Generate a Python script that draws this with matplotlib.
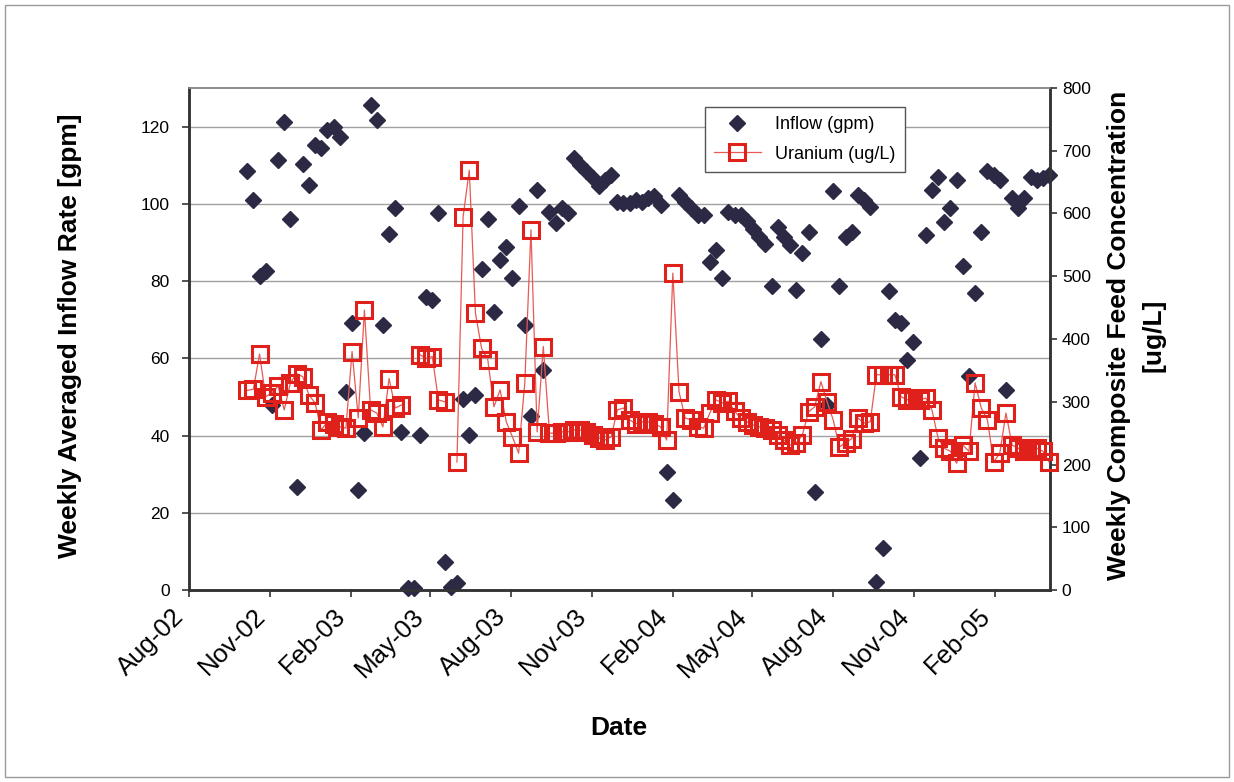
import numpy as np
import pandas as pd
import matplotlib
matplotlib.use("Agg")
import matplotlib.pyplot as plt
import matplotlib.dates as mdates
from matplotlib.lines import Line2D
from matplotlib.patches import Rectangle
from matplotlib.transforms import ScaledTranslation

plt.rcParams['font.family'] = ['Liberation Sans', 'DejaVu Sans']

# weekly samples, first week of the record
FIRST_WEEK = "2002-10-06"

# weekly averaged inflow rate [gpm]
inflow = [108.4, 101, 81.2, 82.5, 48, 111.4, 121.2, 96, 26.8, 110.3,
          104.9, 115.3, 114.4, 119.2, 120, 117.4, 51.4, 69.1, 25.9, 40.7,
          125.6, 121.8, 68.7, 92.2, 99, 41, 0.5, 0.5, 40.2, 76,
          75.1, 97.6, 7.3, 0.9, 1.8, 49.5, 40.2, 50.5, 83, 96,
          72, 85.5, 88.9, 80.7, 99.5, 68.7, 45, 103.6, 57, 98,
          95, 98.9, 97.6, 111.8, 110, 108.4, 106.7, 104.5, 106.2, 107.5,
          100.6, 100.2, 100.2, 101, 100.6, 101.5, 101.9, 99.8, 30.6, 23.3,
          102.3, 100.6, 98.9, 97.2, 97.2, 85, 88.1, 80.7, 98, 97.2,
          97, 95.5, 93.5, 91.5, 89.5, 78.6, 94.1, 91.5, 89.4, 77.7,
          87.3, 92.8, 25.5, 65, 47.9, 103.4, 78.6, 91.5, 92.8, 102.3,
          101, 99.3, 2.2, 10.8, 77.3, 70, 69.1, 59.6, 64.3, 34.1,
          92, 103.6, 107, 95.4, 98.9, 106.2, 83.8, 55.3, 76.9, 92.8,
          108.4, 107.5, 106.2, 51.8, 101.5, 98.9, 101.5, 107, 106.2, 106.6,
          107.5]

# weekly composite feed uranium concentration [ug/L], nan = no sample
uranium = [318, 320, 376, 308, 314, 325, 287, 330, 345, 340,
           311, 298, 255, 268, 264, 260, 258, 380, 274, 446,
           287, 282, 260, 337, 290, 295, np.nan, np.nan, 375, 369,
           372, 303, 300, np.nan, 204, 595, 669, 441, 385, 367,
           292, 319, 268, 244, 218, 330, 574, 252, 388, 250,
           250, 252, 252, 255, 255, 252, 247, 242, 239, 244,
           287, 290, 271, 265, 268, 268, 265, 260, 239, 505,
           316, 274, 271, 260, 258, 282, 303, 298, 301, 285,
           274, 268, 263, 260, 258, 255, 247, 239, 231, 234,
           247, 284, 292, 332, 300, 271, 228, 235, 241, 274,
           266, 268, 343, 343, 343, 343, 308, 303, 306, 303,
           306, 287, 242, 226, 221, 202, 231, 221, 330, 290,
           271, 204, 218, 282, 231, 226, 221, 226, 226, 221,
           204]

weeks = pd.date_range(FIRST_WEEK, periods=len(inflow), freq="7D")

fig = plt.figure(figsize=(12.34, 7.82), dpi=100)
fig.patches.append(Rectangle((0.004, 0.006), 0.992, 0.988, transform=fig.transFigure,
                             fill=False, edgecolor="#9a9a9a", lw=1))

ax = fig.add_axes([0.1532, 0.2455, 0.6977, 0.642])
ax2 = ax.twinx()

navy = "#2b2944"
red = "#e0201b"

ax.plot(weeks, inflow, ls="none", marker="D", ms=8.5, color=navy,
        clip_on=False, zorder=3)
ax2.plot(weeks, uranium, color="#e65a55", lw=0.9, marker="s", ms=12,
         mfc="none", mec=red, mew=2.2, clip_on=False, zorder=4)

ax.set_xlim(pd.Timestamp("2002-08-01"), pd.Timestamp("2005-04-04"))
ax.xaxis.set_major_locator(mdates.MonthLocator(bymonth=[2, 5, 8, 11]))
ax.xaxis.set_major_formatter(mdates.DateFormatter("%b-%y"))
ax.set_ylim(0, 130)
ax.set_yticks(range(0, 121, 20))
ax2.set_ylim(0, 800)
ax2.set_yticks(range(0, 801, 100))

ax.yaxis.grid(True, color="#a0a0a0", lw=1)
ax.set_axisbelow(True)

for a in (ax, ax2):
    a.tick_params(axis="both", direction="out", length=5, width=1.2,
                  color="#333333", labelsize=12.5)
ax.tick_params(axis="y", pad=9)
ax.tick_params(axis="x", labelsize=18.5, pad=9)
# Excel puts the end of the slanted labels a bit left of the tick
shift = ScaledTranslation(-9 / 100, -3 / 100, fig.dpi_scale_trans)
for tick in ax.xaxis.get_major_ticks():
    lab = tick.label1
    lab.set_rotation(45)
    lab.set_ha("right")
    lab.set_va("center")
    lab.set_rotation_mode("anchor")
    lab.set_transform(lab.get_transform() + shift)

for a in (ax, ax2):
    a.spines["top"].set_color("#8a8a8a")
    a.spines["top"].set_linewidth(1.2)
    for s in ("left", "right", "bottom"):
        a.spines[s].set_color("#333333")
        a.spines[s].set_linewidth(1.8)

ax.set_ylabel("Weekly Averaged Inflow Rate [gpm]", fontsize=19, fontweight="bold")
ax.yaxis.set_label_coords(-0.124, 0.506)
ax2.set_ylabel("Weekly Composite Feed Concentration\n[ug/L]", fontsize=19,
               fontweight="bold", multialignment="center", linespacing=1.55)
ax2.yaxis.set_label_coords(1.066, 0.507)
ax.set_xlabel("Date", fontsize=19, fontweight="bold")
ax.xaxis.set_label_coords(0.4994, -0.25)

handles = [Line2D([], [], ls="none", marker="D", ms=8.5, color=navy),
           Line2D([], [], color="#e65a55", lw=0.9, marker="s", ms=12,
                  mfc="none", mec=red, mew=2.2)]
leg = ax2.legend(handles, ["Inflow (gpm)", "Uranium (ug/L)"], loc="upper left",
                 bbox_to_anchor=(0.599, 0.962), borderaxespad=0, fontsize=13,
                 fancybox=False, framealpha=1, edgecolor="#555555",
                 handlelength=2.6, handletextpad=0.8, borderpad=0.5,
                 labelspacing=0.7)
leg.get_frame().set_linewidth(1)

fig.savefig("out.png", dpi=100)
